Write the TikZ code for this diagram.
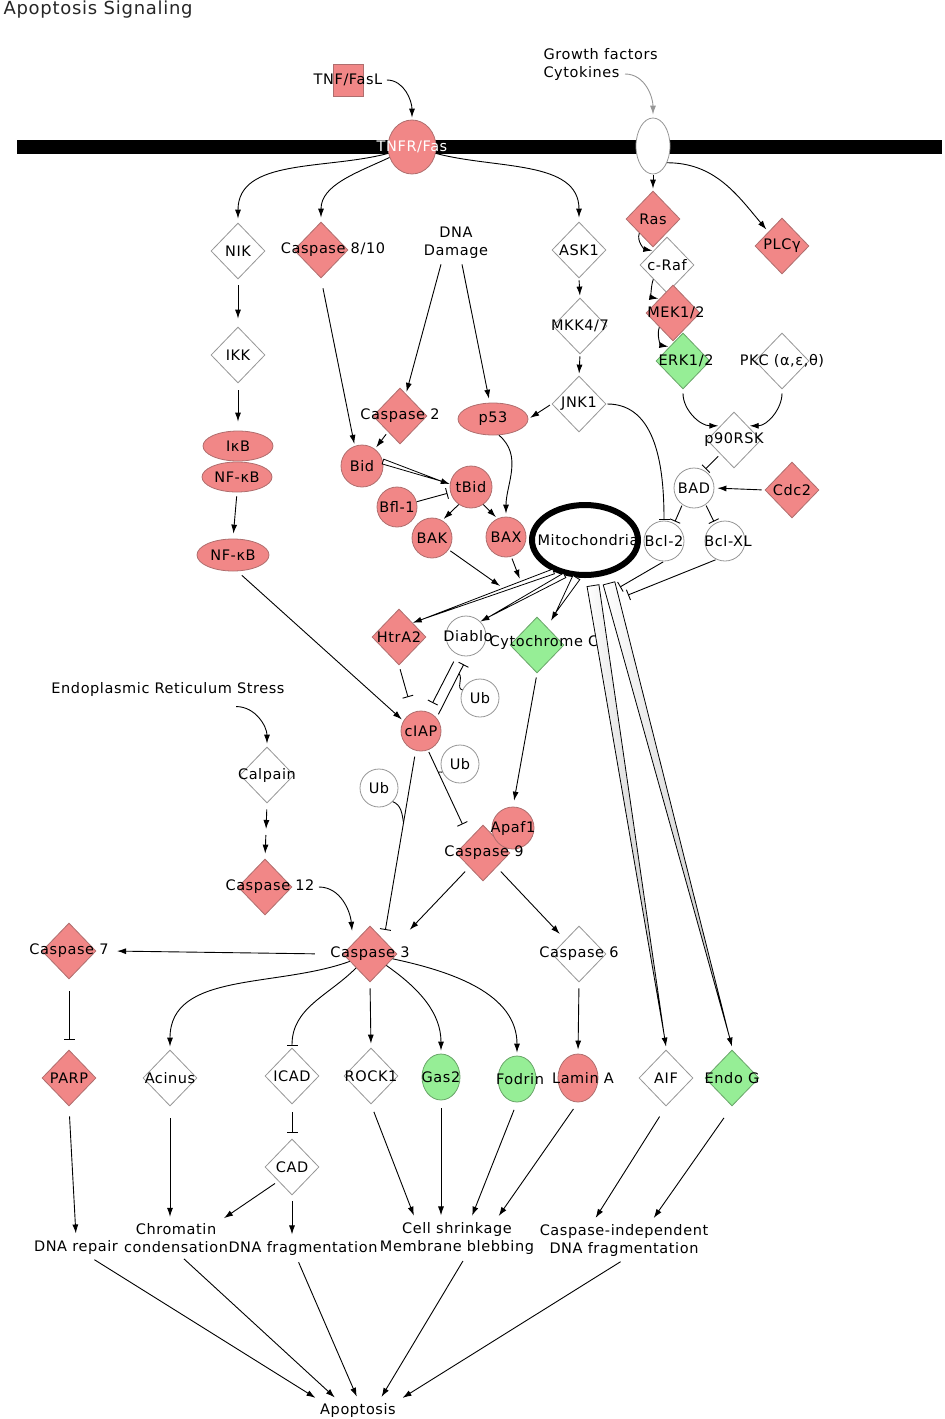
\documentclass[tikz,border=0pt]{standalone}
\usepackage{fontspec}
\setmainfont{DejaVu Sans}[LetterSpace=4]
\usetikzlibrary{shapes.geometric,arrows.meta,calc}
\definecolor{pk}{RGB}{241,135,135}
\definecolor{pkd}{RGB}{175,110,110}
\definecolor{gn}{RGB}{150,238,150}
\definecolor{gnd}{RGB}{105,165,105}
\definecolor{gr}{RGB}{150,150,150}
\newcommand{\wedgeArr}[4]{%
  \draw[#4,draw=black,line width=0.8pt] ($(#1)!#3!90:(#2)$) -- ($(#2)!9pt!(#1)$) -- ($(#1)!#3!-90:(#2)$) -- cycle;
  \draw[arr] ($(#2)!10pt!(#1)$) -- (#2);}
\begin{document}
\begin{tikzpicture}[x=1pt,y=1pt,font=\fontsize{14.5}{18}\selectfont,
 arr/.style={-{Latex[length=9pt,width=6pt]},line width=0.9pt},
 inh/.style={-{Bar[width=11pt,line width=0.9pt]},line width=0.9pt},
 hook/.style={line width=0.9pt},
 dia/.style={diamond,draw=gr,fill=white,minimum width=54pt,minimum height=56pt,inner sep=0pt,line width=0.8pt},
 pdia/.style={dia,draw=pkd,fill=pk},
 gdia/.style={dia,draw=gnd,fill=gn},
 circ/.style={circle,draw=gr,fill=white,minimum size=40pt,inner sep=0pt,line width=0.8pt},
 pcirc/.style={circ,draw=pkd,fill=pk},
 ell/.style={ellipse,draw=pkd,fill=pk,inner sep=0pt,line width=0.8pt},
]
\useasboundingbox (0,0) rectangle (945,-1419);
\node[anchor=west,font=\fontsize{18}{20}\selectfont,text=black!85] (title) at (0,-10) {Apoptosis Signaling};

% membrane
\node[fill=black,minimum width=925pt,minimum height=14pt,inner sep=0pt] (mem) at (479.5,-147) {};

% top
\node[anchor=west,align=left] (gf) at (540,-64) {Growth factors\\Cytokines};
\coordinate (gfs) at (625,-74);
\node[ell,draw=gr,fill=white,minimum width=34pt,minimum height=56pt] (ge) at (653,-146) {};
\node[draw=pkd,fill=pk,minimum width=30pt,minimum height=32pt,inner sep=0pt,line width=0.8pt,label={[name=tnfl]center:TNF/FasL}] (tnf) at (348,-80) {};
\node[ell,minimum width=48pt,minimum height=54pt,label={[name=tnfrl,text=white]center:TNFR/Fas}] (tnfr) at (412,-147) {};

\node[dia,label={center:NIK}] (nik) at (238,-251) {};
\node[pdia,label={[xshift=12pt]center:Caspase 8/10}] (c810) at (321,-250) {};
\node[align=center] (dna) at (456,-243) {DNA\\Damage};
\node[dia,label={center:ASK1}] (ask1) at (579,-250) {};
\node[dia,label={center:IKK}] (ikk) at (238,-355) {};
\node[dia,label={center:MKK4/7}] (mkk) at (580,-326) {};
\node[dia,label={center:JNK1}] (jnk) at (579,-404) {};
\node[pdia,label={center:Ras}] (ras) at (653,-219) {};
\node[dia,label={center:c-Raf}] (craf) at (667,-265) {};
\node[pdia,label={[xshift=3pt]center:MEK1/2}] (mek) at (673,-313) {};
\node[gdia,label={[xshift=3pt]center:ERK1/2}] (erk) at (683,-361) {};
\node[pdia,label={center:PLCγ}] (plc) at (782,-246) {};
\node[dia,label={center:{PKC (α,ε,θ)}}] (pkc) at (782,-361) {};
\node[dia,label={center:p90RSK}] (p90) at (734,-440) {};
\node[circ,label={center:BAD}] (bad) at (694,-488) {};
\node[pdia,label={center:Cdc2}] (cdc2) at (792,-490) {};
\node[pdia,label={center:Caspase 2}] (c2) at (400,-416) {};
\node[ell,minimum width=70pt,minimum height=32pt,label={center:p53}] (p53) at (493,-419) {};
\node[ell,minimum width=70pt,minimum height=30pt,label={center:IκB}] (ikb) at (238,-446) {};
\node[ell,minimum width=70pt,minimum height=30pt,label={center:NF-κB}] (nfkb1) at (237,-477) {};
\node[ell,minimum width=72pt,minimum height=32pt,label={center:NF-κB}] (nfkb2) at (233,-555) {};
\node[pcirc,minimum size=42pt,label={center:Bid}] (bid) at (362,-466) {};
\node[pcirc,minimum size=42pt,label={center:tBid}] (tbid) at (471,-487) {};
\node[pcirc,label={center:Bfl-1}] (bfl) at (397,-507) {};
\node[pcirc,label={center:BAK}] (bak) at (432,-538) {};
\node[pcirc,label={center:BAX}] (bax) at (506,-537) {};
\node[ellipse,draw=black,line width=6pt,fill=white,minimum width=106pt,minimum height=70pt,inner sep=0pt,label={[xshift=3pt]center:Mitochondria}] (mito) at (585,-540) {};
\node[circ,label={center:Bcl-2}] (bcl2) at (664,-541) {};
\node[circ,label={[xshift=3pt]center:Bcl-XL}] (bclxl) at (725,-541) {};

% middle
\node[pdia,label={center:HtrA2}] (htr) at (399,-637) {};
\node[circ,label={[xshift=2pt]center:Diablo}] (diablo) at (466,-636) {};
\node[gdia,label={[xshift=7pt,yshift=3pt]center:Cytochrome C}] (cyt) at (537,-645) {};
\node[circ,minimum size=38pt,label={center:Ub}] (ub1) at (480,-698) {};
\node[pcirc,label={center:cIAP}] (ciap) at (421,-731) {};
\node[circ,minimum size=38pt,label={center:Ub}] (ub2) at (460,-764) {};
\node[circ,minimum size=38pt,label={center:Ub}] (ub3) at (379,-788) {};
\node (er) at (168,-689) {Endoplasmic Reticulum Stress};
\node[dia,label={center:Calpain}] (calp) at (267,-775) {};
\node[pdia,label={[name=c12l,xshift=5pt]center:Caspase 12}] (c12) at (265,-887) {};
\node[pdia] (c9) at (483,-853) {};
\node[pcirc,minimum size=42pt,label={center:Apaf1}] (apaf) at (513,-828) {};
\node (c9l) at (484,-853) {Caspase 9};
\node[pdia,label={[name=c3l]center:Caspase 3}] (c3) at (370,-954) {};
\node[pdia,label={[name=c7l]center:Caspase 7}] (c7) at (69,-951) {};
\node[dia,label={center:Caspase 6}] (c6) at (579,-954) {};

% lower row
\node[pdia,label={center:PARP}] (parp) at (69,-1078) {};
\node[dia,label={center:Acinus}] (acin) at (170,-1078) {};
\node[dia,label={center:ICAD}] (icad) at (292,-1076) {};
\node[dia,label={center:ROCK1}] (rock) at (371,-1076) {};
\node[ell,draw=gnd,fill=gn,minimum width=38pt,minimum height=46pt,label={center:Gas2}] (gas) at (441,-1077) {};
\node[ell,draw=gnd,fill=gn,minimum width=38pt,minimum height=46pt,label={[xshift=3pt]center:Fodrin}] (fod) at (517,-1079) {};
\node[ell,minimum width=40pt,minimum height=48pt,label={[xshift=5pt]center:Lamin A}] (lam) at (578,-1078) {};
\node[dia,label={center:AIF}] (aif) at (666,-1078) {};
\node[gdia,label={center:Endo G}] (endog) at (732,-1078) {};
\node[dia,label={center:CAD}] (cad) at (292,-1167) {};

% outcomes
\node (dnarep) at (76,-1247) {DNA repair};
\node[align=center] (chrom) at (176,-1238) {Chromatin\\condensation};
\node (dnafrag) at (303,-1248) {DNA fragmentation};
\node[align=center] (cell) at (457,-1238) {Cell shrinkage\\Membrane blebbing};
\node[align=center] (cind) at (624,-1240) {Caspase-independent\\DNA fragmentation};
\node (apo) at (358,-1410) {Apoptosis};

% ---------- connectors
\draw[arr,shorten <=1pt,shorten >=2pt] (tnfl.east) to[out=0,in=90] (tnfr.north);
\draw[arr,color=gr,shorten >=3pt] (gfs) to[out=0,in=90] (ge.north);
\draw[arr,shorten >=4pt] (tnfr) to[out=195,in=90] (nik.north);
\draw[arr,shorten >=4pt] (tnfr) to[out=205,in=90] (c810.north);
\draw[arr,shorten >=4pt] (tnfr) to[out=-15,in=90] (ask1.north);
\draw[arr,shorten <=1pt,shorten >=2pt] (ge.south) -- (ras.north);
\draw[arr,shorten >=3pt] (ge.-50) to[out=0,in=130] (plc.north west);

\draw[arr,shorten <=6pt,shorten >=8pt] (nik.south) -- (ikk.north);
\draw[arr,shorten <=7pt,shorten >=9pt] (ikk.south) -- (ikb.north);
\draw[arr,shorten <=4pt,shorten >=5pt] (nfkb1.south) -- (nfkb2.north);
\draw[arr,shorten <=2pt,shorten >=2pt] (ask1.south) -- (mkk.north);
\draw[arr,shorten <=2pt,shorten >=2pt] (mkk.south) -- (jnk.north);
\draw[arr,shorten <=2pt,shorten >=2pt] (jnk.west) -- (p53.east);
\draw[arr,shorten <=10pt,shorten >=2pt] (c810.south) -- (bid.110);
\draw[arr,shorten >=2pt] ($(dna.south)+(-15,-2)$) -- (c2);
\draw[arr,shorten >=4pt] ($(dna.south)+(6,-2)$) -- (p53);
\draw[arr,shorten <=3pt,shorten >=2pt] (c2) -- (bid);
\draw[inh,shorten <=1pt,shorten >=1pt] (jnk.east) to[out=0,in=90] (bcl2.north);
\draw[arr,shorten >=3pt] (p53.-70) to[out=-40,in=90] (bax.north);
\draw[arr,shorten >=1pt] (ras.south west) to[out=-110,in=170] (craf.north west);
\draw[arr,shorten >=1pt] (craf.south west) to[out=-110,in=170] (mek.north west);
\draw[arr,shorten >=1pt] (mek.south west) to[out=-110,in=170] (erk.north west);
\draw[arr,shorten <=4pt,shorten >=2pt] (erk.south) to[out=-90,in=180] (p90.north west);
\draw[arr,shorten <=4pt,shorten >=2pt] (pkc.south) to[out=-90,in=0] (p90.north east);
\draw[inh,shorten <=3pt,shorten >=2pt] (p90.south west) -- (bad.60);
\draw[arr,shorten <=3pt,shorten >=3pt] (cdc2.west) -- (bad.east);
\draw[inh,shorten <=1pt,shorten >=2pt] (bad.235) -- (bcl2.60);
\draw[inh,shorten <=1pt,shorten >=2pt] (bad.-55) -- (bclxl.120);
\draw[inh,shorten >=3pt] (bfl.15) -- (tbid.195);
\draw[arr,shorten >=2pt] (tbid.235) -- (bak.60);
\draw[arr,shorten >=2pt] (tbid.-55) -- (bax.115);

\coordinate (bs) at (bid.12);
\coordinate (be) at (tbid.172);
\wedgeArr{bs}{be}{2.5pt}{fill=white}

% mitochondria releases
\coordinate (m1) at (mito.225);
\coordinate (m1e) at (htr.north east);
\coordinate (m2) at (mito.240);
\coordinate (m2e) at (diablo.45);
\coordinate (m3) at (mito.257);
\coordinate (m3e) at ($(cyt.north)+(14,-4)$);
\coordinate (m4) at ($(mito.282)+(0,-8)$);
\coordinate (m4e) at ($(aif.north)+(0,3)$);
\coordinate (m5) at ($(mito.305)+(0,-9)$);
\coordinate (m5e) at ($(endog.north)+(0,3)$);
\wedgeArr{m1}{m1e}{2.5pt}{fill=white}
\wedgeArr{m2}{m2e}{2.5pt}{fill=white}
\wedgeArr{m3}{m3e}{4pt}{fill=white}
\wedgeArr{m4}{m4e}{6pt}{left color=white,right color=gray!45}
\wedgeArr{m5}{m5e}{6pt}{left color=white,right color=gray!45}
\draw[arr,shorten <=2pt] (bak.-35) -- ($(m1)!0.38!(m1e)+(0,5)$);
\draw[arr,shorten <=2pt] (bax.-75) -- ($(m1)!0.24!(m1e)+(0,5)$);
\coordinate (jb2) at (620,-587);
\coordinate (jbx) at (628,-595);
\draw[inh,shorten <=1pt] (bcl2.south) -- (jb2);
\draw[inh,shorten <=1pt] (bclxl.-115) -- (jbx);

% cIAP region
\draw[arr,shorten <=6pt,shorten >=2pt] (nfkb2.-75) -- (ciap.150);
\draw[inh,shorten <=4pt,shorten >=16pt] (htr.south) -- (ciap.115);
\draw[inh,shorten <=8pt,shorten >=10pt] (diablo.245) -- (ciap.70);
\draw[inh,shorten <=4pt,shorten >=9pt] (ciap.40) -- (diablo.-85);
\draw[hook] (ub1.155) to[out=170,in=-50] ($(ciap.40)!0.72!(diablo.-85)$);
\draw[inh,shorten <=2pt,shorten >=16pt] (ciap.-70) -- (c9.north west);
\draw[hook] (ub2.205) to[out=200,in=60] ($(ciap.-70)!0.25!(c9.north west)$);
\draw[inh,shorten <=6pt,shorten >=10pt] (ciap.-105) -- (c3.north east);
\draw[hook] (ub3.-45) to[out=-20,in=100] ($(ciap.-105)!0.38!(c3.north east)$);
\draw[arr,shorten <=4pt,shorten >=6pt] (cyt.south) -- (apaf.north);
\draw[arr,shorten <=6pt] (c9.south west) -- ($(c3.north east)+(26,10)$);
\draw[arr,shorten <=6pt,shorten >=8pt] (c9.south east) -- (c6.north west);
\draw[arr,shorten <=1pt,shorten >=3pt] (c12l.east) to[out=0,in=95] ($(c3.north west)+(-4,6)$);
\draw[arr,shorten >=3pt] ($(er.south east)+(-52,-7)$) to[out=0,in=90] (calp.north);
\coordinate (cm) at ($(calp.south)!0.5!(c12.north)$);
\draw[arr,shorten <=6pt,shorten >=2pt] (calp.south) -- (cm);
\draw[arr,shorten <=4pt,shorten >=5pt] (cm) -- (c12.north);

% caspase 3 targets
\draw[arr,shorten <=12pt,shorten >=5pt] (c3l.west) -- (c7l.east);
\draw[inh,shorten <=12pt,shorten >=10pt] (c7.south) -- (parp.north);
\draw[arr,shorten >=3pt] (c3) to[out=200,in=90] (acin.north);
\draw[inh,shorten >=2pt] (c3) to[out=225,in=90] (icad.north);
\draw[arr,shorten <=6pt,shorten >=4pt] (c3.south) -- (rock.north);
\draw[arr,shorten >=3pt] (c3) to[out=-35,in=90] (gas.north);
\draw[arr,shorten >=3pt] (c3) to[out=-12,in=90] (fod.north);
\draw[arr,shorten <=6pt,shorten >=4pt] (c6.south) -- (lam.north);
\draw[inh,shorten <=8pt,shorten >=6pt] (icad.south) -- (cad.north);

% to outcomes
\draw[arr,shorten <=10pt,shorten >=3pt] (parp.south) -- (dnarep.north);
\draw[arr,shorten <=12pt,shorten >=3pt] (acin.south) -- ($(chrom.north)+(-6,0)$);
\draw[arr,shorten <=4pt,shorten >=3pt] (cad.south west) -- ($(chrom.north east)+(-10,0)$);
\draw[arr,shorten <=6pt,shorten >=3pt] (cad.south) -- (dnafrag.north -| cad.south);
\draw[arr,shorten <=8pt,shorten >=3pt] (rock.south) -- ($(cell.north)+(-42,0)$);
\draw[arr,shorten <=8pt,shorten >=3pt] (gas.south) -- (cell.north -| gas.south);
\draw[arr,shorten <=8pt,shorten >=3pt] (fod.south) -- ($(cell.north)+(14,0)$);
\draw[arr,shorten <=8pt,shorten >=3pt] (lam.south) -- ($(cell.north)+(40,0)$);
\draw[arr,shorten <=12pt,shorten >=3pt] (aif.south) -- ($(cind.north)+(-30,0)$);
\draw[arr,shorten <=14pt,shorten >=3pt] (endog.south) -- ($(cind.north)+(28,0)$);

\draw[arr,shorten <=4pt,shorten >=3pt] ($(dnarep.south)+(15,0)$) -- ($(apo.north)+(-40,0)$);
\draw[arr,shorten <=4pt,shorten >=3pt] ($(chrom.south)+(5,0)$) -- ($(apo.north)+(-21,0)$);
\draw[arr,shorten <=4pt,shorten >=3pt] ($(dnafrag.south)+(-6,0)$) -- (apo.north);
\draw[arr,shorten <=4pt,shorten >=3pt] ($(cell.south)+(8,0)$) -- ($(apo.north)+(22,0)$);
\draw[arr,shorten <=4pt,shorten >=3pt] (cind.south) -- ($(apo.north)+(42,0)$);
\end{tikzpicture}
\end{document}
